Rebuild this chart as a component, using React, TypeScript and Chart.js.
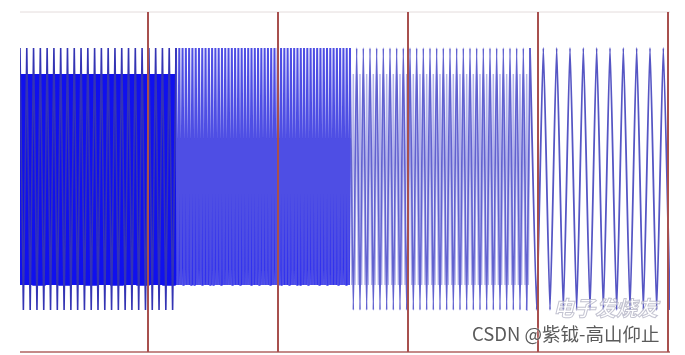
import React, { useEffect, useRef } from "react";
import { Chart, registerables } from "chart.js";

Chart.register(...registerables);

// Axis ranges (time units across, amplitude units up)
const xMin = 0;
const xMax = 650;
const yMin = 0;
const yMax = 340;

// Main waveform, one entry per frequency segment
const segmentStart = [0, 156, 330, 510];
const segmentEnd = [156, 330, 510, 650];
const segmentCycles = [23, 53, 27, 10.5];
const segmentHigh = [304, 304, 304, 304];
const segmentLow = [42, 67, 42, 42];
const segmentColor = ["#3434b4", "#4e4ee4", "#6262d0", "#5656c4"];
const segmentWidth = [1.6, 2.0, 1.6, 1.8];
const segmentTension = [0, 0, 0.15, 0.15];

// Dense inner bands of the waveform
const bandStart = [0, 156, 330];
const bandEnd = [156, 330, 510];
const bandCycles = [150, 110, 54];
const bandHigh = [278, 214, 278];
const bandLow = [67, 67, 67];
const bandColor = ["#1010ee", "#3030ee", "#b4b4ea"];

// Vertical divider markers
const markerX = [128, 258, 388, 518, 648];

type Pt = { x: number; y: number };

function zigzag(start: number, end: number, cycles: number, hi: number, lo: number): Pt[] {
  const halves = Math.round(cycles * 2);
  const step = (end - start) / halves;
  const pts: Pt[] = [];
  for (let k = 0; k <= halves; k++) {
    pts.push({ x: start + k * step, y: k % 2 === 0 ? hi : lo });
  }
  return pts;
}

export default function App() {
  const ref = useRef<HTMLCanvasElement | null>(null);

  useEffect(() => {
    if (!ref.current) return;
    const datasets: any[] = [];

    bandStart.forEach((s, i) => {
      datasets.push({
        data: zigzag(s, bandEnd[i], bandCycles[i], bandHigh[i], bandLow[i]),
        borderColor: bandColor[i],
        borderWidth: 1.4,
        pointRadius: 0,
        tension: 0,
        order: 5,
      });
    });

    segmentStart.forEach((s, i) => {
      datasets.push({
        data: zigzag(s, segmentEnd[i], segmentCycles[i], segmentHigh[i], segmentLow[i]),
        borderColor: segmentColor[i],
        borderWidth: segmentWidth[i],
        pointRadius: 0,
        tension: segmentTension[i],
        order: 3,
      });
    });

    markerX.forEach((mx) => {
      datasets.push({
        data: [
          { x: mx, y: yMin },
          { x: mx, y: yMax },
        ],
        borderColor: "#a8504e",
        borderWidth: 2,
        pointRadius: 0,
        clip: false,
        order: 1,
      });
    });

    // frame lines
    datasets.push({
      data: [
        { x: xMin, y: yMax },
        { x: xMax, y: yMax },
      ],
      borderColor: "#e4dcdc",
      borderWidth: 1,
      pointRadius: 0,
      clip: false,
      order: 2,
    });
    datasets.push({
      data: [
        { x: xMin, y: yMin },
        { x: xMax, y: yMin },
      ],
      borderColor: "#c48a88",
      borderWidth: 2,
      pointRadius: 0,
      clip: false,
      order: 2,
    });

    const chart = new Chart(ref.current, {
      type: "line",
      data: { datasets },
      options: {
        animation: false,
        responsive: false,
        maintainAspectRatio: false,
        layout: { padding: { left: 20, right: 15, top: 12, bottom: 3 } },
        plugins: { legend: { display: false }, tooltip: { enabled: false } },
        scales: {
          x: { type: "linear", min: xMin, max: xMax, display: false },
          y: { type: "linear", min: yMin, max: yMax, display: false },
        },
      },
    });
    return () => chart.destroy();
  }, []);

  return (
    <div style={{ position: "fixed", left: 0, top: 0, width: 685, height: 355, background: "#fff" }}>
      <canvas ref={ref} width={685} height={355} style={{ display: "block" }} />
      <div
        style={{
          position: "absolute",
          left: 553,
          top: 292,
          fontFamily: "'Noto Sans CJK SC', sans-serif",
          fontSize: 21,
          fontStyle: "italic",
          fontWeight: 700,
          color: "rgba(255,255,255,0.6)",
          WebkitTextStroke: "1px rgba(170,170,190,0.7)",
          letterSpacing: 0,
          whiteSpace: "nowrap",
        }}
      >
        电子发烧友
      </div>
      <div
        style={{
          position: "absolute",
          left: 472,
          top: 320,
          fontFamily: "'Noto Sans CJK SC', sans-serif",
          fontSize: 18.5,
          color: "#5a5a5a",
          whiteSpace: "nowrap",
          lineHeight: "26px",
          textShadow: "0 0 2px #fff",
        }}
      >
        CSDN @紫钺-高山仰止
      </div>
    </div>
  );
}
